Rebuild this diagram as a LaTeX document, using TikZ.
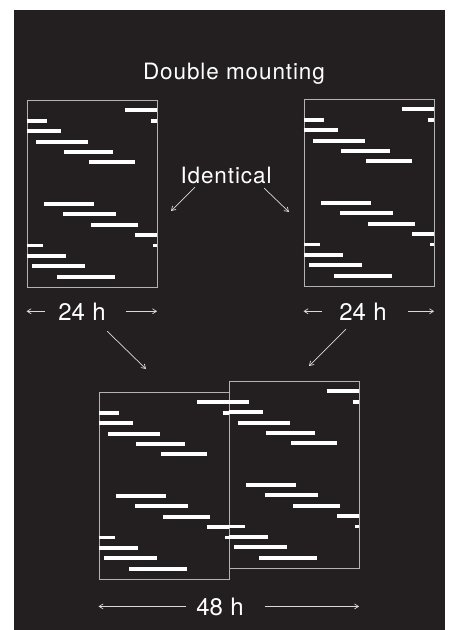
\documentclass[tikz,border=0pt]{standalone}
\usepackage{fontspec}
\setmainfont{TeX Gyre Heros}
\newfontfamily\spacedfont[LetterSpace=4]{TeX Gyre Heros}
\usetikzlibrary{arrows.meta}
\definecolor{plateBg}{HTML}{231F20}

% activity bars of one panel: row / onset / offset (hours)
\newcommand{\dayBars}[1]{%
  \begin{scope}[shift={(#1.north west)}]
  \foreach \k/\a/\b in {1/18.1/24, 2/0/3.7, 2/22.9/24, 3/0/6.4, 4/1.8/11.4,
      5/7.0/15.9, 6/11.5/20.1, 10/3.3/12.4, 11/6.8/16.5, 12/11.9/20.5,
      13/20.0/24, 14/0/3.1, 14/23.4/24, 15/0/7.3, 16/1.1/10.8, 17/5.7/16.3}
    \draw[dayBar] (\a*5.417,\k*10.39) -- (\b*5.417,\k*10.39);
  \end{scope}}

\begin{document}
\begin{tikzpicture}[x=1pt,y=-1pt,
    plateBox/.style={draw=white!70!black,line width=0.6pt,minimum width=130pt,minimum height=187pt,inner sep=0pt,anchor=north west},
    dayBar/.style={white,line width=3.9pt},
    plateText/.style={text=white,anchor=base,font=\spacedfont\fontsize{22.5}{26}\selectfont},
    spanText/.style={text=white,anchor=base,inner sep=1pt,font=\fontsize{24}{28}\selectfont},
    plateArrow/.style={-{Straight Barb[length=4pt,width=5pt]},draw=white!85!black,line width=0.7pt},
]
\fill[white] (0,0) rectangle (449,630);
\fill[plateBg] (14,10) rectangle (445,630);
\useasboundingbox (0,0) rectangle (449,630);

\node[plateText] (TITLE) at (234,79) {Double mounting};
\node[plateText] (IDENT) at (226,183) {Identical};

% single plots
\node[plateBox] (DAYA) at (26.5,100) {};
\node[plateBox] (DAYB) at (303.5,99) {};
\dayBars{DAYA}
\dayBars{DAYB}

% double plot
\node[plateBox] (LEFTHALF) at (98.5,392) {};
\node[plateBox] (RIGHTHALF) at (228.5,381) {};
\dayBars{LEFTHALF}
\dayBars{RIGHTHALF}

\coordinate (IDENTL) at (195,187);
\coordinate (IDENTR) at (264,188);
\coordinate (TOA) at (171,211);
\coordinate (TOB) at (289,212);
\draw[plateArrow] (IDENTL) -- (TOA);
\draw[plateArrow] (IDENTR) -- (TOB);

\node[spanText] (SPANA) at (82,320) {24\hspace{0.3em}h};
\node[spanText] (SPANB) at (363,320) {24\hspace{0.3em}h};
\node[spanText] (SPANAB) at (220,615) {48\hspace{0.3em}h};
\draw[plateArrow] ([xshift=-12pt]SPANA.west) -- (SPANA.west -| DAYA.west);
\draw[plateArrow] ([xshift=19pt]SPANA.east) -- (SPANA.east -| DAYA.east);
\draw[plateArrow] ([xshift=-16pt]SPANB.west) -- (SPANB.west -| DAYB.west);
\draw[plateArrow] ([xshift=20pt]SPANB.east) -- (SPANB.east -| DAYB.east);
\draw[plateArrow] ([xshift=-9pt]SPANAB.west) -- (SPANAB.west -| LEFTHALF.west);
\draw[plateArrow] ([xshift=20pt]SPANAB.east) -- (SPANAB.east -| RIGHTHALF.east);

\coordinate (DOWNA) at (107,331);
\coordinate (DOWNB) at (346,329);
\coordinate (INTOL) at (146,369);
\coordinate (INTOR) at (309,366);
\draw[plateArrow] (DOWNA) -- (INTOL);
\draw[plateArrow] (DOWNB) -- (INTOR);
\end{tikzpicture}
\end{document}
